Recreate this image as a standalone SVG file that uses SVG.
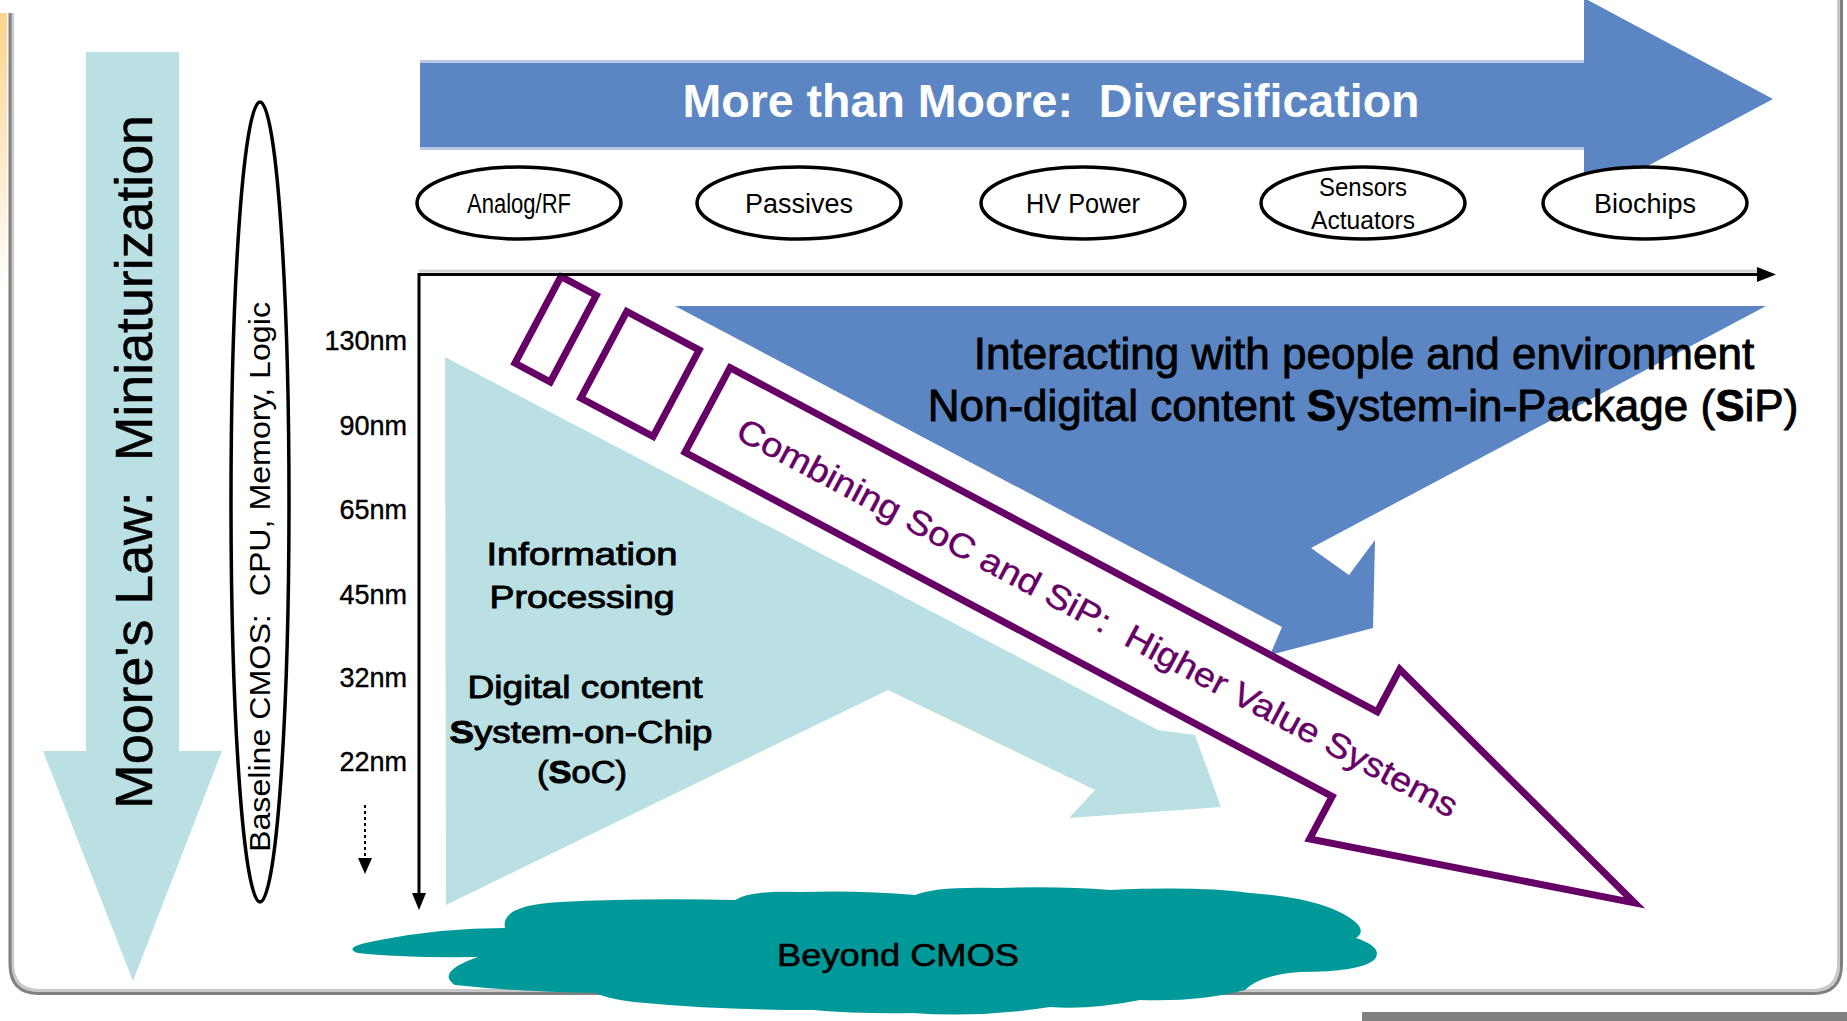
<svg xmlns="http://www.w3.org/2000/svg" width="1847" height="1021" viewBox="0 0 1847 1021">
<defs>
<style>
.t{font-family:"Liberation Sans",Arial,sans-serif;fill:#000}
.lbl{font-size:27px;text-anchor:middle}
.nm{font-size:27px;text-anchor:end;stroke:#000;stroke-width:0.4}
.reg{font-size:31px;text-anchor:middle;stroke:#000;stroke-width:0.9}
.oval{fill:#fff;stroke:#000;stroke-width:3.5}
.purp{fill:#fff;stroke:#660066;stroke-width:7;stroke-linejoin:miter}
.ax{stroke:#000;stroke-width:3;fill:none}
</style>
<linearGradient id="org" x1="0" y1="0" x2="0" y2="1">
<stop offset="0" stop-color="#FCD48C"/>
<stop offset="1" stop-color="#FFFFFF"/>
</linearGradient>
</defs>
<rect width="1847" height="1021" fill="#fff"/>

<g id="frame">
<rect x="0" y="13" width="7" height="280" fill="url(#org)"/>
<path d="M12.5,13 V963 Q12.5,990.5 40,990.5 H1812 Q1838.5,990.5 1838.5,963 V0" fill="none" stroke="#C8C8C8" stroke-width="3"/>
<path d="M10,13 V964 Q10,993.5 39,993.5 H1813 Q1841.5,993.5 1841.5,964 V0" fill="none" stroke="#808080" stroke-width="3"/>
<rect x="1362" y="1012" width="485" height="9" fill="#808080"/>
</g>

<g id="moores-law">
<polygon points="86,52 179,52 179,751 222,751 133,981 43,751 86,751" fill="#BBE0E3"/>
<text class="t" transform="translate(152,462) rotate(-90)" font-size="51" text-anchor="middle" textLength="694" lengthAdjust="spacingAndGlyphs" stroke="#000" stroke-width="0.5">Moore's Law:&#160; Miniaturization</text>
</g>

<g id="baseline-cmos">
<ellipse cx="260" cy="502" rx="29" ry="400" class="oval"/>
<text class="t" transform="translate(270,577) rotate(-90)" font-size="30" text-anchor="middle" textLength="550" lengthAdjust="spacingAndGlyphs">Baseline CMOS:&#160; CPU, Memory, Logic</text>
</g>

<g id="nm-scale">
<text class="t nm" x="407" y="350">130nm</text>
<text class="t nm" x="407" y="435">90nm</text>
<text class="t nm" x="407" y="519">65nm</text>
<text class="t nm" x="407" y="604">45nm</text>
<text class="t nm" x="407" y="687">32nm</text>
<text class="t nm" x="407" y="771">22nm</text>
</g>

<g id="soc-region">
<polygon points="445,357 1158,730 1195,735 1221,807 1069,818 1095,790 888,690 446,905" fill="#BBE0E3"/>
<text class="t reg" x="582" y="565" textLength="191" lengthAdjust="spacingAndGlyphs">Information</text>
<text class="t reg" x="582" y="608" textLength="185" lengthAdjust="spacingAndGlyphs">Processing</text>
<text class="t reg" x="585" y="698" textLength="235" lengthAdjust="spacingAndGlyphs">Digital content</text>
<text class="t reg" x="581" y="743" textLength="263" lengthAdjust="spacingAndGlyphs"><tspan font-weight="bold">S</tspan>ystem-on-Chip</text>
<text class="t reg" x="582" y="783" textLength="90" lengthAdjust="spacingAndGlyphs">(<tspan font-weight="bold">S</tspan>oC)</text>
</g>

<g id="sip-region">
<polygon points="675,306 1766,306 1311,548 1349,575 1375,540 1373,628 1270,655 1282,627" fill="#5B86C3"/>
<text class="t" x="1364" y="369" font-size="44" text-anchor="middle" stroke="#000" stroke-width="0.9">Interacting with people and environment</text>
<text class="t" x="1363" y="421" font-size="44" text-anchor="middle" stroke="#000" stroke-width="0.9">Non-digital content <tspan font-weight="bold">S</tspan>ystem-in-Package (<tspan font-weight="bold">S</tspan>iP)</text>
</g>

<g id="more-than-moore">
<polygon points="420,60 1584,60 1584,-2 1773,99 1584,200 1584,150 420,150" fill="#5B86C3"/>
<line x1="420" y1="61.5" x2="1584" y2="61.5" stroke="#B9C8E3" stroke-width="3"/>
<line x1="420" y1="148.5" x2="1584" y2="148.5" stroke="#B9C8E3" stroke-width="3"/>
<text class="t" x="1051" y="117" font-size="46" font-weight="bold" style="fill:#fff" text-anchor="middle" textLength="737" lengthAdjust="spacingAndGlyphs">More than Moore:&#160; Diversification</text>
</g>

<g id="analog-rf">
<ellipse cx="519" cy="203" rx="102" ry="36" class="oval"/>
<text class="t lbl" x="519" y="213" textLength="104" lengthAdjust="spacingAndGlyphs">Analog/RF</text>
</g>
<g id="passives">
<ellipse cx="799" cy="203" rx="102" ry="36" class="oval"/>
<text class="t lbl" x="799" y="213">Passives</text>
</g>
<g id="hv-power">
<ellipse cx="1083" cy="203" rx="102" ry="36" class="oval"/>
<text class="t lbl" x="1083" y="213" textLength="114" lengthAdjust="spacingAndGlyphs">HV Power</text>
</g>
<g id="sensors-actuators">
<ellipse cx="1363" cy="203" rx="102" ry="36" class="oval"/>
<text class="t" x="1363" y="196" font-size="26" text-anchor="middle" textLength="88" lengthAdjust="spacingAndGlyphs">Sensors</text>
<text class="t" x="1363" y="229" font-size="26" text-anchor="middle" textLength="104" lengthAdjust="spacingAndGlyphs">Actuators</text>
</g>
<g id="biochips">
<ellipse cx="1645" cy="203" rx="102" ry="36" class="oval"/>
<text class="t lbl" x="1645" y="213">Biochips</text>
</g>

<g id="combining-arrow" transform="translate(707.5,410) rotate(28)">
<rect x="-192" y="-49" width="40" height="98" class="purp" stroke-width="6"/>
<rect x="-117.5" y="-49" width="82" height="98" class="purp" stroke-width="6"/>
<path d="M0,-48 L733,-48 L733,-96 L1050,0 L733,96 L733,48 L0,48 Z" class="purp"/>
<text x="442" y="12" font-family="Liberation Sans, Arial, sans-serif" font-size="34" fill="#660066" stroke="#660066" stroke-width="0.4" text-anchor="middle" textLength="811" lengthAdjust="spacingAndGlyphs">Combining SoC and SiP:&#160; Higher Value Systems</text>
</g>

<g id="beyond-cmos">
<path d="M380,940 Q440,928 505,928 Q500,905 560,902 Q640,898 735,900 Q750,890 800,892 Q860,890 915,895 Q935,886 1000,888 Q1060,886 1110,890 Q1200,886 1250,893 Q1320,898 1350,918 Q1368,930 1356,938 Q1385,948 1374,960 Q1360,972 1300,972 Q1260,975 1245,990 Q1200,1002 1140,1000 Q1090,1010 1050,1007 Q980,1018 912,1013 Q860,1014 813,1010 Q720,1010 645,1003 Q610,1000 596,993 Q520,992 455,985 Q435,972 478,957 Q400,958 358,953 Q340,947 380,940 Z" fill="#009999"/>
<text class="t" x="898" y="966" font-size="32" text-anchor="middle" textLength="242" lengthAdjust="spacingAndGlyphs" stroke="#000" stroke-width="0.6">Beyond CMOS</text>
</g>

<g id="connectors">
<line x1="419" y1="271" x2="1760" y2="271" stroke="#D4D4D4" stroke-width="3"/>
<line x1="419" y1="274.5" x2="1760" y2="274.5" class="ax"/>
<polygon points="1757,267 1757,282 1776,274.5" fill="#000"/>
<line x1="419" y1="273" x2="419" y2="895" class="ax"/>
<polygon points="412,893 426,893 419,910" fill="#000"/>
<line x1="365" y1="805" x2="365" y2="860" stroke="#000" stroke-width="2" stroke-dasharray="3,3"/>
<polygon points="358,858 372,858 365,874" fill="#000"/>
</g>
</svg>
